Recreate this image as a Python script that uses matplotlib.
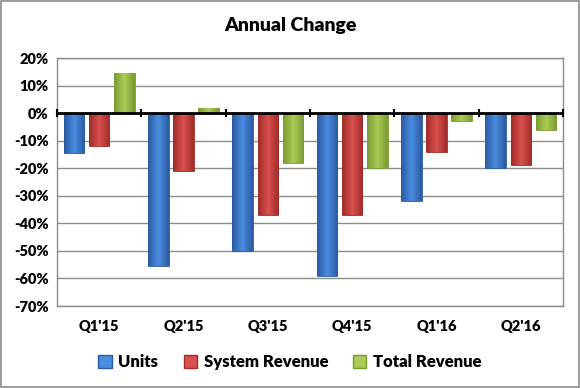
import numpy as np
import matplotlib.pyplot as plt
from matplotlib.colors import LinearSegmentedColormap
from matplotlib.patches import Rectangle

quarters = ["Q1'15", "Q2'15", "Q3'15", "Q4'15", "Q1'16", "Q2'16"]
units = [-14.5, -55.5, -50, -59, -32, -20]
system_revenue = [-12, -21, -37, -37, -14, -19]
total_revenue = [14.5, 2, -18, -20, -3, -6]

series = [
    ("Units", units, ("#2f62a8", "#4a8ce0", "#2a5aa0")),
    ("System Revenue", system_revenue, ("#a32f2d", "#d9504c", "#9e2c2a")),
    ("Total Revenue", total_revenue, ("#7f9e35", "#a8cc55", "#7a9a32")),
]

plt.rcParams['font.family'] = ['Lato', 'DejaVu Sans']
W = "heavy"

fig = plt.figure(figsize=(5.8, 3.88), dpi=100)
fig.patches.append(Rectangle((0.002, 0.002), 0.996, 0.995, transform=fig.transFigure,
                             fill=False, edgecolor="#8c8c8c", linewidth=1.2))
ax = fig.add_axes([57 / 580, 1 - 306 / 388, (563 - 57) / 580, (306 - 58) / 388])

x = np.arange(len(quarters))
width = 0.245
step = 0.297
grad = np.array([[0.0, 0.5, 1.0, 0.5, 0.0]])
grad = np.interp(np.linspace(0, 4, 40), np.arange(5), grad[0]).reshape(1, -1)

handles = []
for i, (name, vals, cols) in enumerate(series):
    cmap = LinearSegmentedColormap.from_list(name, [cols[2], cols[1]])
    pos = x + (i - 1) * step
    bars = ax.bar(pos, vals, width, color=cols[1], edgecolor=cols[2], linewidth=0.6, zorder=3)
    for b in bars:
        bx, by = b.get_x(), b.get_y()
        bw, bh = b.get_width(), b.get_height()
        im = ax.imshow(grad, cmap=cmap, aspect="auto", interpolation="bicubic",
                       extent=[bx, bx + bw, by, by + bh], zorder=3)
        im.set_clip_path(b)
    handles.append(Rectangle((0, 0), 1, 1, facecolor=cols[1], edgecolor=cols[2]))

ax.set_xlim(-0.5, len(quarters) - 0.5)
ax.set_ylim(-70, 20)
ax.set_yticks(np.arange(-70, 21, 10))
ax.set_yticklabels([f"{v}%" for v in range(-70, 21, 10)], fontsize=10.5, fontweight=W)
ax.yaxis.grid(True, color="#8c8c8c", linewidth=1.0, zorder=0)
ax.set_axisbelow(True)
ax.tick_params(axis="y", length=0, pad=6)
ax.set_xticks([])
for s in ax.spines.values():
    s.set_color("#8c8c8c")
    s.set_linewidth(1.0)

# zero axis with category tick marks
ax.axhline(0, color="black", linewidth=2, zorder=4)
for b in np.arange(-0.5, len(quarters), 1.0):
    ax.plot([b, b], [-1.2, 1.2], color="black", linewidth=1.5, zorder=4, clip_on=False)

for xi, q in zip(x, quarters):
    ax.text(xi, -77.5, q, ha="center", va="center", fontsize=10.5, fontweight=W)

fig.text(0.5, 1 - 25 / 388, "Annual Change", ha="center", va="center",
         fontsize=14, fontweight=W)

fig.legend(handles, [s[0] for s in series], loc="center", bbox_to_anchor=(0.5, 1 - 362 / 388),
           ncol=3, frameon=False, handlelength=0.8, handleheight=0.8,
           handletextpad=0.4, columnspacing=1.5, prop={"weight": W, "size": 12})

fig.savefig("out.png", dpi=100)
